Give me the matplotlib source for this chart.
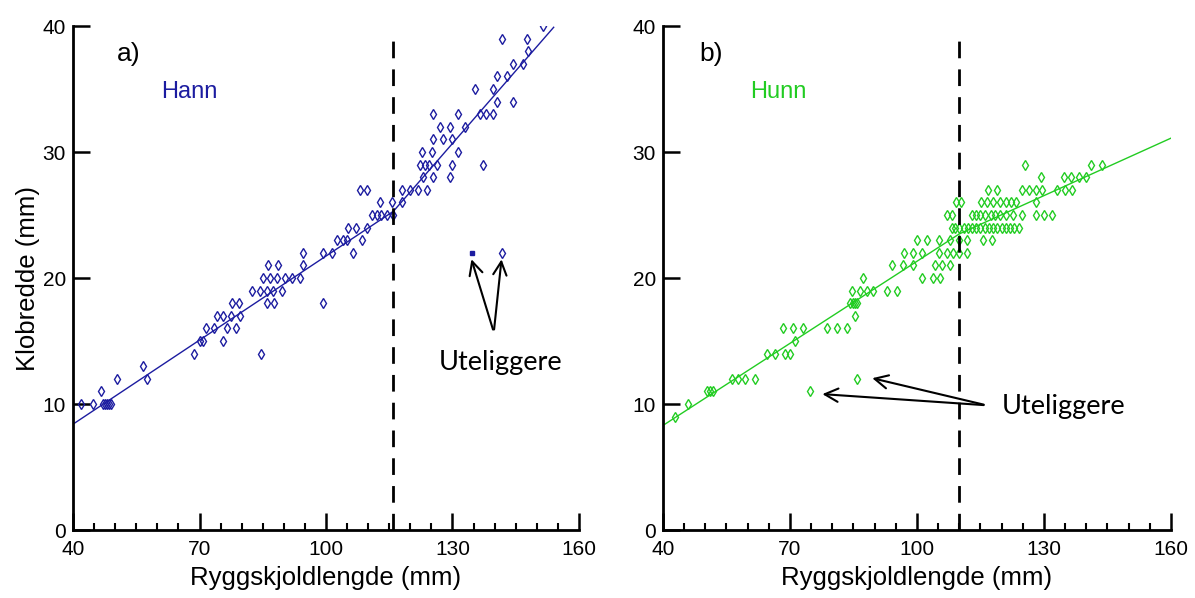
import numpy as np
import matplotlib.pyplot as plt

plt.rcParams['font.family'] = ['Liberation Sans', 'DejaVu Sans']

# Hann (hanner) - ryggskjoldlengde vs klobredde
hann_x = [42, 44.7, 47, 47.5, 48, 48.5, 49,
          46.6,
          50.4, 57.5,
          56.6,
          68.6, 84.6,
          70, 70.8, 75.6,
          71.5, 73.4, 76.5, 78.6,
          74.2, 75.6, 77.5, 79.6,
          77.7, 79.3, 86.1, 87.6, 99.4,
          82.4, 84.3, 86, 87.4, 89.6,
          85, 86.7, 88.4, 90.3, 92, 93.8,
          86.2, 88.6, 94.5,
          94.5, 99.3, 101.4, 106.4,
          102.6, 104, 105, 108.5,
          105.2, 107, 109.7,
          111, 112, 113, 114.5, 116,
          112.8, 115.6, 118,
          108, 109.7, 118, 119.9, 121.8, 124,
          123, 125.4, 129.4,
          122.3, 123.5, 124.5, 126.3, 130, 137.2,
          122.8, 125.2, 131.3,
          125.4, 127.8, 130,
          127, 129.4, 133,
          125.4, 131.3, 136.5, 138, 139.6,
          140.5, 144.3,
          135.3, 139.6,
          140.5, 143,
          144.3, 146.7,
          147.9,
          141.7, 147.6,
          151.4]
hann_y = [10, 10, 10, 10, 10, 10, 10,
          11,
          12, 12,
          13,
          14, 14,
          15, 15, 15,
          16, 16, 16, 16,
          17, 17, 17, 17,
          18, 18, 18, 18, 18,
          19, 19, 19, 19, 19,
          20, 20, 20, 20, 20, 20,
          21, 21, 21,
          22, 22, 22, 22,
          23, 23, 23, 23,
          24, 24, 24,
          25, 25, 25, 25, 25,
          26, 26, 26,
          27, 27, 27, 27, 27, 27,
          28, 28, 28,
          29, 29, 29, 29, 29, 29,
          30, 30, 30,
          31, 31, 31,
          32, 32, 32,
          33, 33, 33, 33, 33,
          34, 34,
          35, 35,
          36, 36,
          37, 37,
          38,
          39, 39,
          40]
hann_out_x = [134.6, 141.7]
hann_out_y = [22, 22]
hann_line_x = [40, 116, 154]
hann_line_y = [8.4, 25.3, 39.9]

# Hunn (hunner)
hunn_x = [42.8,
          45.9,
          50.4, 51.2, 51.8,
          56.3, 57.7, 59.3, 61.7,
          64.5, 66.4, 68.8, 70,
          71.1,
          68.3, 70.7, 73, 78.7, 81, 83.4,
          85.3,
          84.1, 84.8, 85.3, 85.8,
          84.6, 86.5, 88.1, 89.5, 92.8, 95.2,
          87.2, 101.3, 103.7, 105.5,
          94.2, 96.6, 99, 104.2, 105.8, 107.7,
          97, 99, 101.3, 105.3, 107, 108.4, 110, 111.7,
          100.1, 102.3, 105.3, 107.7, 110, 111.7, 115.5, 117.8,
          108.2, 109, 110, 111, 112, 113, 114, 115, 116, 117, 118, 119, 120, 121, 122, 123, 124.2,
          107, 108.2, 112.9, 114, 115, 116, 117.5, 118.5, 119.5, 121, 122.6, 124.9, 128.2, 130, 132,
          109.3, 110.5, 115.2, 116.5, 118, 119.5, 121, 122.3, 123.5, 128.2,
          116.7, 118.8, 124.9, 126.5, 128, 129.6, 133, 135, 136.7,
          129.4, 134.8, 136.5, 138.3, 140,
          125.4, 141.2, 143.8]
hunn_y = [9,
          10,
          11, 11, 11,
          12, 12, 12, 12,
          14, 14, 14, 14,
          15,
          16, 16, 16, 16, 16, 16,
          17,
          18, 18, 18, 18,
          19, 19, 19, 19, 19, 19,
          20, 20, 20, 20,
          21, 21, 21, 21, 21, 21,
          22, 22, 22, 22, 22, 22, 22, 22,
          23, 23, 23, 23, 23, 23, 23, 23,
          24, 24, 24, 24, 24, 24, 24, 24, 24, 24, 24, 24, 24, 24, 24, 24, 24,
          25, 25, 25, 25, 25, 25, 25, 25, 25, 25, 25, 25, 25, 25, 25,
          26, 26, 26, 26, 26, 26, 26, 26, 26, 26,
          27, 27, 27, 27, 27, 27, 27, 27, 27,
          28, 28, 28, 28, 28,
          29, 29, 29]
hunn_out_x = [74.7, 85.8]
hunn_out_y = [11, 12]
hunn_line_x = [40, 110, 160]
hunn_line_y = [8.3, 23.5, 31.1]

x_ticks = [40, 70, 100, 130, 160]
y_ticks = [0, 10, 20, 30, 40]

blue = '#1c1ca0'
green = '#22cc22'

fig = plt.figure(figsize=(11.95, 5.98), dpi=100)
ax1 = fig.add_axes([0.0611, 0.1137, 0.4234, 0.8428])
ax2 = fig.add_axes([0.5548, 0.1137, 0.4251, 0.8428])


def style(ax):
    ax.set_xlim(40, 160)
    ax.set_ylim(0, 40)
    for s in ['top', 'right']:
        ax.spines[s].set_visible(False)
    for s in ['left', 'bottom']:
        ax.spines[s].set_linewidth(2)
    ax.set_xticks(x_ticks)
    ax.set_xticks(np.arange(40, 161, 5), minor=True)
    ax.set_yticks(y_ticks)
    ax.tick_params(which='major', direction='in', length=12, width=1.8, labelsize=15, pad=7)
    ax.tick_params(which='minor', direction='in', length=5, width=1.5)
    ax.tick_params(axis='y', which='major', pad=5)
    ax.set_xlabel('Ryggskjoldlengde (mm)', fontsize=18.5, labelpad=5)


style(ax1)
style(ax2)

dash = (0, (6, 4))
arrow = dict(arrowstyle='->', color='black', lw=1.5, mutation_scale=24)
ute_font = ['Lato', 'DejaVu Sans']

# a) Hann
ax1.plot(hann_line_x, hann_line_y, color=blue, lw=1)
ax1.plot(hann_x, hann_y, 'd', ms=5, mfc='none', mec=blue, mew=1)
ax1.plot(hann_out_x[0], hann_out_y[0], 's', ms=3, color=blue)
ax1.plot(hann_out_x[1], hann_out_y[1], 'd', ms=5, mfc='none', mec=blue, mew=1)
ax1.plot([116, 116], [0, 39.6], color='black', lw=2, ls=dash)
ax1.text(50.5, 37.8, 'a)', fontsize=19, va='center')
ax1.text(67.7, 34.8, 'Hann', fontsize=17, color=blue, ha='center', va='center')
ax1.set_ylabel('Klobredde (mm)', fontsize=18.5, labelpad=2)
ax1.annotate('', xy=(134.3, 21.7), xytext=(139.8, 15.7), arrowprops=arrow)
ax1.annotate('', xy=(141.7, 21.7), xytext=(139.8, 15.7), arrowprops=arrow)
ax1.text(141.3, 13.3, 'Uteliggere', fontsize=19.5, ha='center', va='center', family=ute_font)

# b) Hunn
ax2.plot(hunn_line_x, hunn_line_y, color=green, lw=1)
ax2.plot(hunn_x, hunn_y, 'd', ms=5, mfc='none', mec=green, mew=1)
ax2.plot(hunn_out_x, hunn_out_y, 'd', ms=5, mfc='none', mec=green, mew=1)
ax2.plot([110, 110], [0, 39], color='black', lw=2, ls=dash)
ax2.text(48.5, 37.8, 'b)', fontsize=19, va='center')
ax2.text(67.2, 34.8, 'Hunn', fontsize=17, color=green, ha='center', va='center')
ax2.annotate('', xy=(77, 10.8), xytext=(116.4, 9.9), arrowprops=arrow)
ax2.annotate('', xy=(88.8, 12.1), xytext=(116.4, 9.9), arrowprops=arrow)
ax2.text(120, 9.8, 'Uteliggere', fontsize=19.5, ha='left', va='center', family=ute_font)

fig.savefig('out.png', dpi=100)
